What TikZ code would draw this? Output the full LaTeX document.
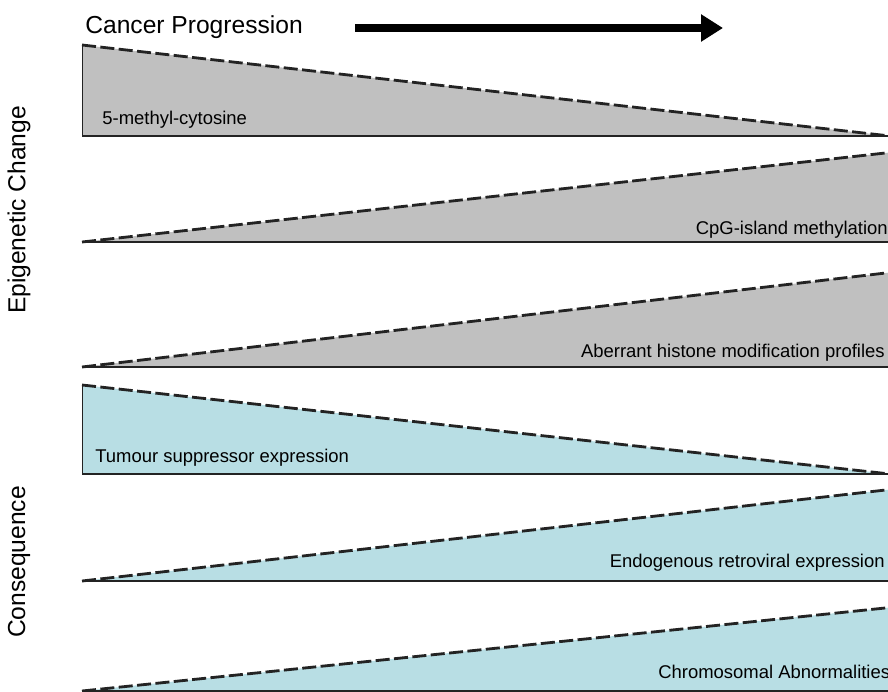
\documentclass[tikz,border=0pt]{standalone}
\usepackage{fontspec}
\setmainfont{Liberation Sans}
\usetikzlibrary{arrows.meta}
\definecolor{methgray}{RGB}{192, 192, 192}
\definecolor{consblue}{RGB}{184, 222, 228}
\definecolor{edgedark}{RGB}{35, 35, 35}

\begin{document}
\begin{tikzpicture}
    \tikzstyle{slope} = [edgedark, line width=1.6pt, dash pattern=on 8pt off 2.5pt]
    \tikzstyle{floor} = [edgedark, line width=1.2pt]
    \tikzstyle{side} = [edgedark, line width=0.5pt]
    \tikzstyle{tag} = [inner sep=0pt, font=\fontsize{10.5}{12}\selectfont]
    \tikzstyle{heading} = [inner sep=0pt, font=\fontsize{14}{16}\selectfont]
    \tikzstyle{arrow} = [line width=4.5pt, -{Triangle[length=0.44cm, width=0.52cm]}]

    \useasboundingbox (0,0) rectangle (17.76,13.82);
    \clip (0,0) rectangle (17.76,13.82);

    % title and arrow
    \node[heading, anchor=base west] (progress) at (1.70,13.14) {Cancer Progression};
    \coordinate (arrtail) at (7.10,13.26);
    \coordinate (arrhead) at (14.46,13.26);
    \draw[arrow] (arrtail) -- (arrhead);

    % side headings
    \node[heading, rotate=90] (epi) at (0.38,9.62) {Epigenetic Change};
    \node[heading, rotate=90] (cons) at (0.38,2.58) {Consequence};

    % epigenetic change
    \fill[methgray] (1.64,12.92) -- (17.80,11.10) -- (1.64,11.10) -- cycle;
    \draw[slope] (1.64,12.92) -- (17.80,11.10);
    \draw[floor] (1.64,11.10) -- (17.80,11.10);
    \draw[side] (1.64,11.10) -- (1.64,12.92);
    \node[tag, anchor=base west] (mc) at (2.04,11.32) {5-methyl-cytosine};

    \fill[methgray] (1.64,8.98) -- (17.80,10.77) -- (17.80,8.98) -- cycle;
    \draw[slope] (1.64,8.98) -- (17.80,10.77);
    \draw[floor] (1.64,8.98) -- (17.80,8.98);
    \node[tag, anchor=base east] (cpg) at (17.76,9.12) {CpG-island methylation};

    \fill[methgray] (1.64,6.48) -- (17.80,8.37) -- (17.80,6.48) -- cycle;
    \draw[slope] (1.64,6.48) -- (17.80,8.37);
    \draw[floor] (1.64,6.48) -- (17.80,6.48);
    \node[tag, anchor=base east] (histone) at (17.70,6.68) {Aberrant histone modification profiles};

    % consequence
    \fill[consblue] (1.64,6.12) -- (17.80,4.34) -- (1.64,4.34) -- cycle;
    \draw[slope] (1.64,6.12) -- (17.80,4.34);
    \draw[floor] (1.64,4.34) -- (17.80,4.34);
    \draw[side] (1.64,4.34) -- (1.64,6.12);
    \node[tag, anchor=base west] (tsg) at (1.90,4.58) {Tumour suppressor expression};

    \fill[consblue] (1.64,2.20) -- (17.80,4.03) -- (17.80,2.20) -- cycle;
    \draw[slope] (1.64,2.20) -- (17.80,4.03);
    \draw[floor] (1.64,2.20) -- (17.80,2.20);
    \node[tag, anchor=base east] (erv) at (17.70,2.48) {Endogenous retroviral expression};

    \fill[consblue] (1.64,0.0) -- (17.80,1.67) -- (17.80,0.0) -- cycle;
    \draw[slope] (1.64,0.0) -- (17.80,1.67);
    \draw[floor] (1.64,0.0) -- (17.80,0.0);
    \node[tag, anchor=base west] (chrom) at (13.16,0.26) {Chromosomal Abnormalities};
\end{tikzpicture}
\end{document}
